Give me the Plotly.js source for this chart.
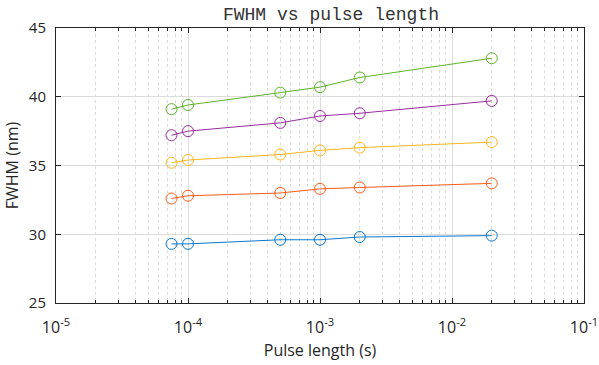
<!DOCTYPE html>
<html>
<head>
<meta charset="utf-8">
<script src="https://cdn.plot.ly/plotly-3.0.1.min.js"></script>
<style>html,body{margin:0;padding:0;background:#fff;}#chart{width:599px;height:365px;}</style>
</head>
<body>
<div id="chart"></div>
<script>
const pulseLength = [7.5e-5, 1e-4, 5e-4, 1e-3, 2e-3, 2e-2];
const seriesBlue   = [29.3, 29.3, 29.6, 29.6, 29.8, 29.9];
const seriesOrange = [32.6, 32.8, 33.0, 33.3, 33.4, 33.7];
const seriesYellow = [35.2, 35.4, 35.8, 36.1, 36.3, 36.7];
const seriesPurple = [37.2, 37.5, 38.1, 38.6, 38.8, 39.7];
const seriesGreen  = [39.1, 39.4, 40.3, 40.7, 41.4, 42.8];
const xMajorTicks = [1e-5, 1e-4, 1e-3, 1e-2, 1e-1];
const xTickLabels = ['10<sup>-5</sup>', '10<sup>-4</sup>', '10<sup>-3</sup>', '10<sup>-2</sup>', '10<sup>-1</sup>'];
const colors = ['#0b78cc', '#ff5a1a', '#ffb51f', '#992ea0', '#5db52b'];
const allSeries = [seriesBlue, seriesOrange, seriesYellow, seriesPurple, seriesGreen];

const xMinorTicks = [];
for (let d = -5; d < -1; d++) for (let m = 2; m <= 9; m++) xMinorTicks.push(m * Math.pow(10, d));

const traces = allSeries.map((ys, i) => ({
  x: pulseLength, y: ys, type: 'scatter', mode: 'lines+markers',
  line: {color: colors[i], width: 1},
  marker: {symbol: 'circle-open', size: 11, color: colors[i], line: {width: 1, color: colors[i]}},
  showlegend: false, cliponaxis: false
}));

const sans = "'Open Sans', 'Noto Sans', sans-serif";
const layout = {
  width: 599, height: 365,
  margin: {l: 55.5, r: 15, t: 27.7, b: 61.7},
  paper_bgcolor: '#fff', plot_bgcolor: '#fff',
  font: {family: sans, size: 15, color: '#262626'},
  title: {text: 'FWHM vs pulse length', font: {family: 'Liberation Mono', size: 18, color: '#333', weight: 'normal'}, x: 0.5526, xanchor: 'center', y: 0.962, yanchor: 'middle'},
  xaxis: {
    type: 'log', range: [-5, -1], tickmode: 'array', tickvals: xMajorTicks, ticktext: xTickLabels,
    showline: true, linecolor: '#262626', linewidth: 1, mirror: 'ticks',
    ticks: 'inside', ticklen: 5, tickcolor: '#262626',
    showgrid: true, gridcolor: '#dcdcdc', gridwidth: 1,
    zeroline: false, ticklabelstandoff: 10,
    tickfont: {family: sans, size: 16, color: '#262626'},
    minor: {tickmode: 'array', tickvals: xMinorTicks, ticks: 'inside', ticklen: 3, tickcolor: '#262626', showgrid: true, gridcolor: '#dcdcdc', griddash: 'dot', gridwidth: 1},
    title: {text: 'Pulse length (s)', font: {family: sans, size: 16, color: '#262626'}, standoff: 7}
  },
  yaxis: {
    range: [25, 45], dtick: 5,
    showline: true, linecolor: '#262626', linewidth: 1, mirror: 'ticks',
    ticks: 'inside', ticklen: 5, tickcolor: '#262626',
    showgrid: true, gridcolor: '#dcdcdc', gridwidth: 1,
    zeroline: false, ticklabelstandoff: 6,
    tickfont: {family: sans, size: 15, color: '#262626'},
    title: {text: 'FWHM (nm)', font: {family: sans, size: 16, color: '#262626'}, standoff: 6}
  }
};
Plotly.newPlot('chart', traces, layout, {displayModeBar: false, staticPlot: true});
</script>
</body>
</html>
